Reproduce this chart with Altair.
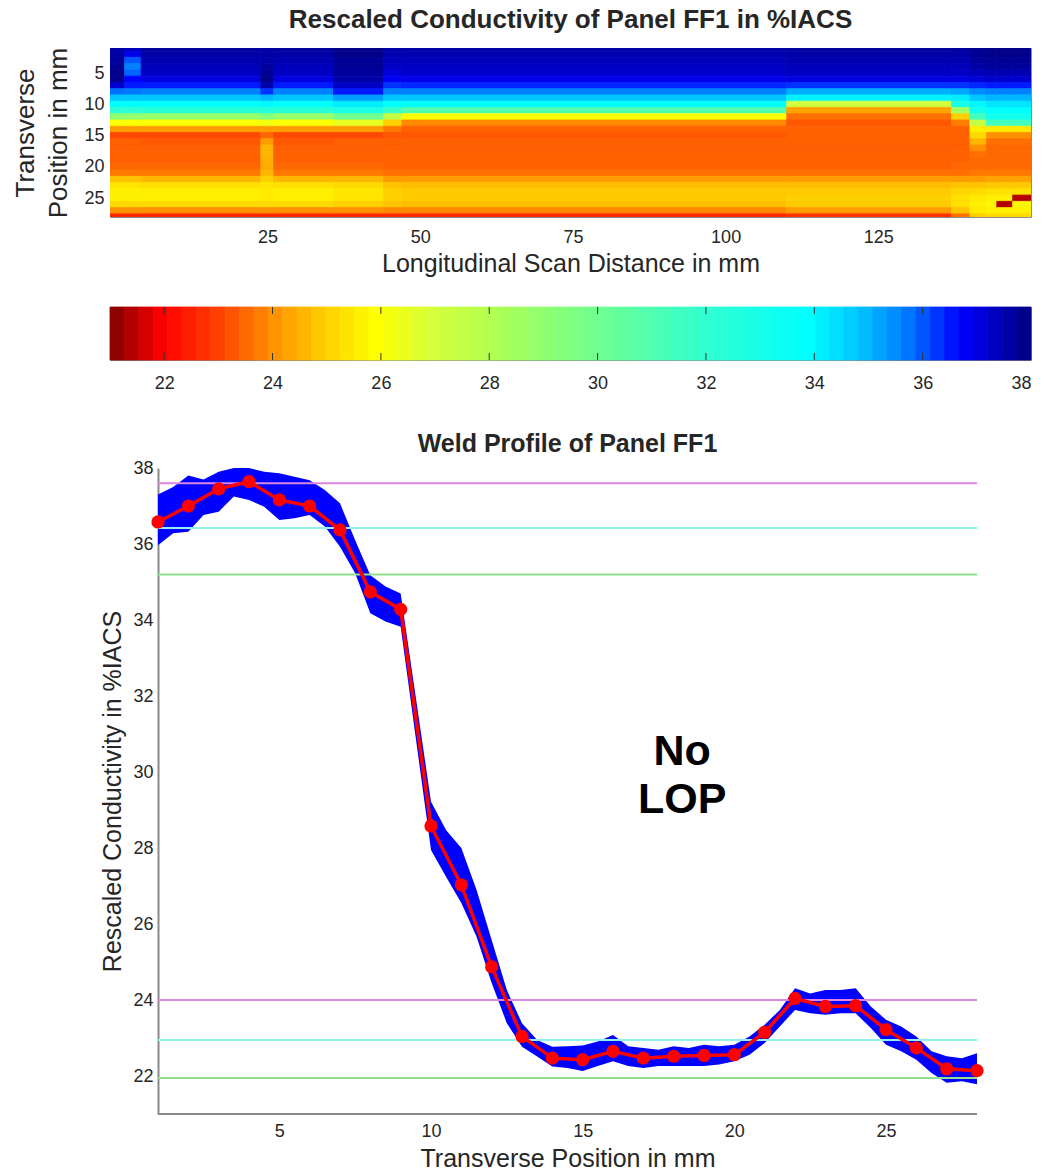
import altair as alt
import numpy as np
import pandas as pd

FONT = "Liberation Sans"
INK = "#262626"

# ---------------- colour map ----------------
CB_STOPS = [21, 21.5, 22, 23, 24, 25, 25.9, 27, 28, 29, 30, 32, 33.9, 34.9, 35.8, 36.7, 38]
CB_COLORS = ["#800000", "#c00000", "#ff0000", "#ff4000", "#ff9000", "#ffd000", "#ffff00",
             "#d4ff3c", "#b4ff50", "#90ff70", "#70ff90", "#30ffd0", "#00ffff", "#00c0ff",
             "#0070ff", "#0000ff", "#000080"]
CB_TICKS = [22, 24, 26, 28, 30, 32, 34, 36, 38]
CB_INNER_TICKS = [22, 24, 26, 28, 30, 32, 34, 36]
CB_STEPS = 64

# ---------------- heat map (transverse rows x longitudinal segments) ----------------
ROWS = list(range(1, 29))
SEG_EDGES = [-0.8, 1.6, 4.3, 23.9, 26.0, 35.8, 44.0, 47.0, 110.0, 137.0, 140.0, 142.7, 144.4, 147.0, 150.0]
SEG_PROFILE = ["left_edge", "blob", "left", "streak25", "left", "dark40", "trans47", "middle",
               "right", "drop", "yellow_streak", "far_right", "step_low", "step_high"]

left_edge = [37.6, 37.6, 37.7, 37.8, 37.9, 37.9, 37.2, 35.8, 34.8, 33.9, 32.2, 29.0, 26.0, 24.2,
             23.1, 23.4, 23.4, 23.4, 23.4, 23.5, 23.7, 24.8, 25.4, 25.6, 25.6, 25.2, 24.0, 22.6]
blob = [37.4, 36.9, 36.0, 35.6, 35.9, 36.7, 36.5, 35.7, 34.8, 33.9, 32.2, 29.0, 26.0, 24.2,
        23.1, 23.4, 23.4, 23.4, 23.4, 23.5, 23.7, 24.8, 25.4, 25.6, 25.6, 25.2, 24.0, 22.6]
left = [37.7, 37.6, 37.5, 37.4, 37.3, 37.0, 36.5, 35.6, 34.8, 33.9, 32.3, 28.8, 26.0, 24.2,
        23.1, 23.3, 23.4, 23.4, 23.4, 23.5, 23.7, 24.6, 25.3, 25.6, 25.6, 25.2, 24.0, 22.6]
streak25 = [37.6, 37.6, 37.6, 37.7, 37.8, 37.9, 37.6, 36.3, 35.0, 34.0, 32.5, 29.5, 26.2, 24.2,
            23.5, 24.2, 24.6, 24.6, 24.5, 24.4, 24.6, 25.0, 25.4, 25.5, 25.5, 25.2, 24.0, 22.6]
dark40 = [37.9, 37.9, 37.8, 37.8, 37.7, 37.6, 37.3, 36.5, 35.3, 34.2, 32.8, 30.0, 26.5, 24.2,
          23.1, 23.4, 23.4, 23.4, 23.4, 23.5, 23.7, 24.6, 25.2, 25.4, 25.4, 25.0, 24.0, 22.6]
trans47 = [37.6, 37.5, 37.4, 37.3, 37.1, 36.8, 36.3, 35.6, 34.8, 33.9, 31.8, 27.5, 25.0, 23.7,
           23.3, 23.4, 23.4, 23.4, 23.4, 23.4, 23.6, 24.2, 24.8, 25.0, 25.0, 24.8, 23.9, 22.6]
middle = [37.6, 37.5, 37.4, 37.3, 37.2, 36.9, 36.4, 35.6, 34.8, 33.8, 31.0, 26.0, 23.9, 23.4,
          23.3, 23.4, 23.4, 23.4, 23.4, 23.4, 23.6, 24.2, 24.7, 24.9, 24.9, 24.7, 23.9, 22.6]
right = [37.7, 37.6, 37.5, 37.4, 37.3, 37.0, 36.3, 35.1, 34.1, 27.0, 24.3, 23.6, 23.3, 23.4,
         23.4, 23.4, 23.4, 23.4, 23.4, 23.4, 23.6, 24.2, 24.7, 24.9, 25.0, 24.9, 24.2, 22.8]
drop = [37.7, 37.6, 37.5, 37.4, 37.3, 37.0, 36.3, 35.2, 34.2, 33.0, 28.5, 25.0, 23.8, 23.4,
        23.4, 23.4, 23.4, 23.4, 23.4, 23.5, 23.6, 24.2, 24.8, 25.1, 25.3, 25.3, 24.8, 23.6]
yellow_streak = [37.8, 37.8, 37.7, 37.6, 37.4, 37.1, 36.4, 35.5, 34.8, 34.0, 33.2, 31.5, 27.5, 25.6,
                 25.2, 24.6, 24.0, 23.6, 23.5, 23.5, 23.7, 24.2, 24.8, 25.2, 25.5, 25.6, 25.5, 25.0]
far_right = [37.9, 37.9, 37.8, 37.7, 37.5, 37.2, 36.5, 35.6, 35.0, 34.3, 33.9, 33.2, 31.5, 25.5,
             24.0, 23.6, 23.5, 23.5, 23.5, 23.5, 23.7, 24.3, 24.9, 25.3, 25.6, 25.7, 25.6, 25.2]
step_low = [37.9, 37.9, 37.8, 37.7, 37.5, 37.2, 36.5, 35.6, 35.0, 34.3, 33.9, 33.2, 31.5, 25.5,
            24.0, 23.6, 23.5, 23.5, 23.5, 23.5, 23.7, 24.3, 24.9, 25.3, 25.6, 21.4, 25.6, 25.2]
step_high = [37.9, 37.9, 37.8, 37.7, 37.5, 37.2, 36.5, 35.6, 35.0, 34.3, 33.9, 33.2, 31.5, 25.5,
             24.0, 23.6, 23.5, 23.5, 23.5, 23.5, 23.7, 24.3, 24.9, 25.3, 21.4, 25.7, 25.6, 25.2]
PROFILES = {"left_edge": left_edge, "blob": blob, "left": left, "streak25": streak25,
            "dark40": dark40, "trans47": trans47, "middle": middle, "right": right,
            "drop": drop, "yellow_streak": yellow_streak, "far_right": far_right,
            "step_low": step_low, "step_high": step_high}

# ---------------- weld profile ----------------
POS = list(range(1, 29))
MEAN = [36.58, 37.0, 37.45, 37.64, 37.16, 37.0, 36.37, 34.74, 34.28, 28.58, 27.03, 24.87, 23.04,
        22.47, 22.43, 22.65, 22.47, 22.52, 22.54, 22.56, 23.15, 24.04, 23.83, 23.85, 23.22,
        22.74, 22.19, 22.14]
BAND_X = [1, 1.5, 2, 2.5, 3, 3.5, 4, 4.5, 5, 5.5, 6, 6.5, 7, 7.5, 8, 8.5, 9,
          10, 10.5, 11, 11.5, 12, 12.5, 13, 13.5, 14, 14.5, 15, 15.5, 16, 16.5, 17, 17.5, 18,
          18.5, 19, 19.5, 20, 20.5, 21, 21.5, 22, 22.5, 23, 23.5, 24, 24.5, 25, 25.5, 26,
          26.5, 27, 27.5, 28]
BAND_HI = [37.3, 37.5, 37.8, 37.7, 37.9, 38.0, 38.0, 37.9, 37.86, 37.77, 37.68, 37.42, 37.07,
           36.1, 35.18, 34.88, 34.7,
           29.22, 28.47, 28.0, 26.9, 25.58, 24.26, 23.39, 22.95, 22.77, 22.78, 22.8, 22.91,
           23.08, 22.78, 22.74, 22.69, 22.78, 22.74, 22.82, 22.78, 22.82, 23.04, 23.35, 23.74,
           24.31, 24.17, 24.26, 24.26, 24.31, 23.83, 23.48, 23.3, 23.04, 22.65, 22.52, 22.47, 22.6]
BAND_LO = [35.97, 36.28, 36.32, 36.76, 36.85, 37.25, 37.16, 36.98, 36.63, 36.68, 36.76, 36.46,
           35.93, 35.23, 34.18, 33.96, 33.82,
           27.95, 27.24, 26.55, 25.67, 24.45, 23.39, 22.77, 22.51, 22.25, 22.21, 22.13, 22.26,
           22.39, 22.26, 22.21, 22.26, 22.26, 22.26, 22.26, 22.3, 22.39, 22.56, 22.87, 23.3,
           23.74, 23.65, 23.61, 23.65, 23.65, 23.26, 22.82, 22.65, 22.43, 22.08, 21.82, 21.86, 21.78]
HLINE_LEVELS = [37.6, 36.42, 35.2, 24.0, 22.95, 21.95]
HLINE_COLORS = ["#dd85e3", "#8ff2ee", "#8fe08f", "#dd85e3", "#8ff2ee", "#8fe08f"]
ANNOT_TEXT = ["No", "LOP"]
ANNOT_X = [18.28, 18.28]
ANNOT_Y = [30.52, 29.27]
PROFILE_X_TICKS = [5, 10, 15, 20, 25]
PROFILE_Y_TICKS = [22, 24, 26, 28, 30, 32, 34, 36, 38]

# ---------------- layout constants ----------------
HEAT_W, HEAT_H = 921, 169
CB_H = 53
PROF_W, PROF_H = 867, 646
AXIS_SHIFT = 48                 # profile y axis sits this far right of the shared left edge
X_LO = 1 - AXIS_SHIFT * 27 / (PROF_W - AXIS_SHIFT)

cscale = alt.Scale(domain=CB_STOPS, range=CB_COLORS, interpolate="rgb", clamp=True)

# ---------- heat map ----------
heat_rows = []
for i, name in enumerate(SEG_PROFILE):
    for r, v in zip(ROWS, PROFILES[name]):
        heat_rows.append({"x0": SEG_EDGES[i], "x1": SEG_EDGES[i + 1],
                          "y0": r - 0.5, "y1": r + 0.5, "v": v})
heat_df = pd.DataFrame(heat_rows)

heat = alt.Chart(heat_df).mark_rect(clip=True, strokeWidth=0.8).encode(
    x=alt.X("x0:Q", scale=alt.Scale(domain=[-0.8, 150], nice=False, zero=False),
            axis=alt.Axis(values=[25, 50, 75, 100, 125], title="Longitudinal Scan Distance in mm",
                          grid=False, ticks=False, domain=False, labelPadding=11,
                          titlePadding=5, labelFontSize=18, titleFontSize=25)),
    x2="x1:Q",
    y=alt.Y("y0:Q", scale=alt.Scale(domain=[1, 28], reverse=True, nice=False, zero=False),
            axis=alt.Axis(values=[5, 10, 15, 20, 25], title=["Transverse", "Position in mm"],
                          grid=False, ticks=False, domain=False, labelPadding=6,
                          titlePadding=12, labelFontSize=18, titleFontSize=26,
                          titleLineHeight=33)),
    y2="y1:Q",
    color=alt.Color("v:Q", scale=cscale, legend=None),
    stroke=alt.Stroke("v:Q", scale=cscale, legend=None),
).properties(
    width=HEAT_W, height=HEAT_H,
    title=alt.TitleParams("Rescaled Conductivity of Panel FF1 in %IACS", fontSize=26,
                          fontWeight="bold", offset=14, anchor="middle"),
)

# ---------- colour bar ----------
cb_edges = np.linspace(CB_STOPS[0], CB_STOPS[-1], CB_STEPS + 1)
cb_df = pd.DataFrame({"a": cb_edges[:-1], "b": cb_edges[1:],
                      "v": (cb_edges[:-1] + cb_edges[1:]) / 2})
cb_x = alt.Scale(domain=[21, 38], nice=False, zero=False)
cb_axis = alt.Axis(values=CB_TICKS, title="\u00a0", titleFontSize=8, titlePadding=2,
                   ticks=False, domain=False, grid=False, labelPadding=14, labelFontSize=18)
cb_rect = alt.Chart(cb_df).mark_rect(strokeWidth=0.8).encode(
    x=alt.X("a:Q", scale=cb_x, axis=cb_axis), x2="b:Q",
    color=alt.Color("v:Q", scale=cscale, legend=None),
    stroke=alt.Stroke("v:Q", scale=cscale, legend=None),
)
tick_df = pd.DataFrame({"a": CB_INNER_TICKS})
cb_top = alt.Chart(tick_df).mark_rule(color="#333333", strokeWidth=1).encode(
    x=alt.X("a:Q", scale=cb_x, axis=cb_axis), y=alt.value(0), y2=alt.value(7))
cb_bot = alt.Chart(tick_df).mark_rule(color="#333333", strokeWidth=1).encode(
    x=alt.X("a:Q", scale=cb_x, axis=cb_axis), y=alt.value(CB_H - 7), y2=alt.value(CB_H))
cbar = alt.layer(cb_rect, cb_top, cb_bot).properties(width=HEAT_W, height=CB_H)

# ---------- weld profile ----------
xs = alt.Scale(domain=[X_LO, 28], nice=False, zero=False)
ys = alt.Scale(domain=[21, 38], nice=False, zero=False)
x_ax = alt.Axis(values=PROFILE_X_TICKS, title="Transverse Position in mm", grid=False,
                domain=False, ticks=False, labelPadding=8, labelFontSize=18, titleFontSize=25,
                titlePadding=6, titleX=(PROF_W + AXIS_SHIFT) / 2, titleAlign="center")
y_ax = alt.Axis(values=PROFILE_Y_TICKS, title="Rescaled Conductivity in %IACS", grid=False,
                offset=-AXIS_SHIFT, domainColor="#8a8a8a", domainWidth=2, ticks=False,
                labelPadding=5, labelFontSize=18, titleFontSize=25, titlePadding=7)

band_df = pd.DataFrame({"x": BAND_X, "lo": BAND_LO, "hi": BAND_HI})
band = alt.Chart(band_df).mark_area(color="#0000ff", opacity=1).encode(
    x=alt.X("x:Q", scale=xs, axis=x_ax),
    y=alt.Y("lo:Q", scale=ys, axis=y_ax), y2="hi:Q")

hl_df = pd.DataFrame({"x": [POS[0]] * len(HLINE_LEVELS), "xe": [POS[-1]] * len(HLINE_LEVELS),
                      "y": HLINE_LEVELS, "c": HLINE_COLORS})
hlines = alt.Chart(hl_df).mark_rule(strokeWidth=2).encode(
    x=alt.X("x:Q", scale=xs, axis=x_ax), x2="xe:Q",
    y=alt.Y("y:Q", scale=ys, axis=y_ax), color=alt.Color("c:N", scale=None))

xline_df = pd.DataFrame({"x": [POS[0]], "xe": [POS[-1]], "y": [21]})
xline = alt.Chart(xline_df).mark_rule(color="#8a8a8a", strokeWidth=2).encode(
    x=alt.X("x:Q", scale=xs, axis=x_ax), x2="xe:Q", y=alt.Y("y:Q", scale=ys, axis=y_ax))

mean_df = pd.DataFrame({"x": POS, "y": MEAN})
red_line = alt.Chart(mean_df).mark_line(color="#ff0000", strokeWidth=3.5).encode(
    x=alt.X("x:Q", scale=xs, axis=x_ax), y=alt.Y("y:Q", scale=ys, axis=y_ax))
red_pts = alt.Chart(mean_df).mark_circle(color="#ff0000", size=175, opacity=1).encode(
    x=alt.X("x:Q", scale=xs, axis=x_ax), y=alt.Y("y:Q", scale=ys, axis=y_ax))

annot_df = pd.DataFrame({"x": ANNOT_X, "y": ANNOT_Y, "t": ANNOT_TEXT})
annot = alt.Chart(annot_df).mark_text(font=FONT, fontSize=43, fontWeight="bold",
                                      color="#000000", baseline="middle").encode(
    x=alt.X("x:Q", scale=xs, axis=x_ax), y=alt.Y("y:Q", scale=ys, axis=y_ax), text="t:N")

profile = alt.layer(band, hlines, xline, red_line, red_pts, annot).properties(
    width=PROF_W, height=PROF_H,
    title=alt.TitleParams("Weld Profile of Panel FF1", fontSize=25, fontWeight="bold",
                          anchor="middle", dx=AXIS_SHIFT / 2, offset=2),
    view=alt.ViewBackground(stroke=None),
)

chart = alt.vconcat(heat, cbar, profile, spacing=29).properties(
    padding={"left": 12, "top": 6, "right": 5, "bottom": 0}
).configure(font=FONT).configure_axis(
    labelFont=FONT, titleFont=FONT, labelColor=INK, titleColor=INK, titleFontWeight="normal"
).configure_title(font=FONT, color=INK).configure_view(stroke="#8c8c8c", strokeWidth=1)

chart.save("out.html", embed_options={"renderer": "svg", "actions": False})
